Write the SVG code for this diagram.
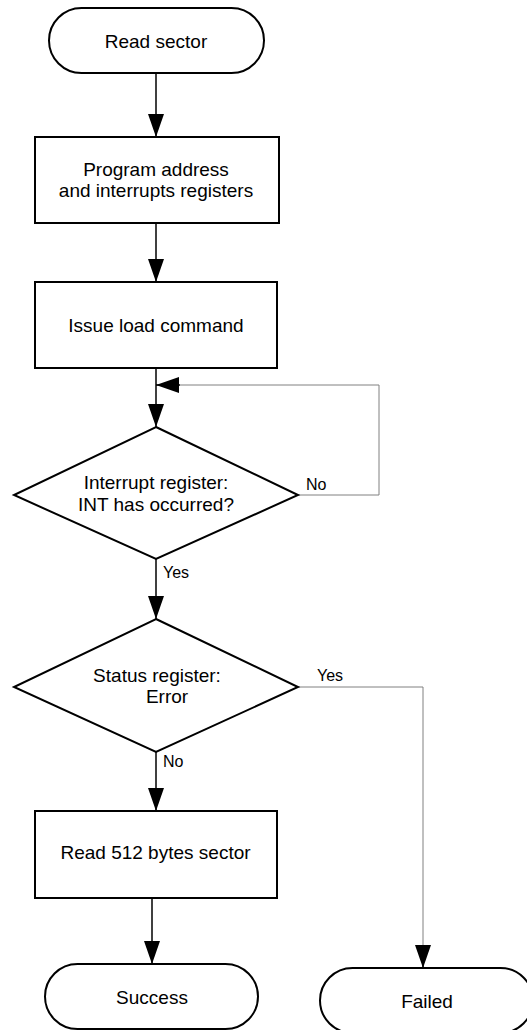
<svg xmlns="http://www.w3.org/2000/svg" width="527" height="1030" viewBox="0 0 527 1030">
<style>
.shape{fill:#fff;stroke:#000;stroke-width:2}
.t{font-family:"Liberation Sans",Arial,sans-serif;font-size:19px;fill:#000;text-anchor:middle}
.lbl{font-family:"Liberation Sans",Arial,sans-serif;font-size:16px;fill:#000}
.c{fill:none;stroke:#000;stroke-width:1.5}
.g{fill:none;stroke:#808080;stroke-width:1}
</style>
<defs>
<marker id="ah" markerUnits="userSpaceOnUse" markerWidth="24" markerHeight="17" refX="23" refY="8" orient="auto">
<path d="M0,0 L23,8 L0,16 Z" fill="#000"/>
</marker>
</defs>
<rect width="527" height="1030" fill="#fff"/>
<g id="connectors">
<line class="c" x1="156" y1="73" x2="156" y2="137" marker-end="url(#ah)"/>
<line class="c" x1="156" y1="223" x2="156" y2="282" marker-end="url(#ah)"/>
<line class="c" x1="156" y1="368" x2="156" y2="427" marker-end="url(#ah)"/>
<polyline class="g" points="298,495 379,495 379,385 180,385"/>
<line class="c" x1="180" y1="385" x2="156" y2="385" stroke-width="0" marker-end="url(#ah)"/>
<line class="c" x1="156" y1="559" x2="156" y2="619" marker-end="url(#ah)"/>
<polyline class="g" points="298,687 423,687 423,945"/>
<line class="c" x1="423" y1="945" x2="423" y2="968" stroke-width="0" marker-end="url(#ah)"/>
<line class="c" x1="156" y1="752" x2="156" y2="811" marker-end="url(#ah)"/>
<line class="c" x1="152" y1="898" x2="152" y2="964" marker-end="url(#ah)"/>
<text class="lbl" x="306" y="490">No</text>
<text class="lbl" x="163" y="578">Yes</text>
<text class="lbl" x="317" y="681">Yes</text>
<text class="lbl" x="163" y="767">No</text>
</g>
<g id="start">
<rect class="shape" x="49" y="8" width="215" height="65" rx="32.5"/>
<text class="t" x="156" y="48">Read sector</text>
</g>
<g id="program">
<rect class="shape" x="35" y="137" width="244" height="86"/>
<text class="t" x="156" y="175.5">Program address</text>
<text class="t" x="156" y="196.5">and interrupts registers</text>
</g>
<g id="issue">
<rect class="shape" x="35" y="282" width="242" height="86"/>
<text class="t" x="156" y="331.5">Issue load command</text>
</g>
<g id="int">
<polygon class="shape" points="156,427 298,495 156,559 14,495"/>
<text class="t" x="156" y="489">Interrupt register:</text>
<text class="t" x="156" y="511">INT has occurred?</text>
</g>
<g id="status">
<polygon class="shape" points="156,619 298,687 156,752 14,687"/>
<text class="t" x="157" y="681.5">Status register:</text>
<text class="t" x="167" y="703">Error</text>
</g>
<g id="read">
<rect class="shape" x="35" y="811" width="242" height="87"/>
<text class="t" x="155.5" y="859">Read 512 bytes sector</text>
</g>
<g id="success">
<rect class="shape" x="45" y="964" width="213" height="65" rx="32.5"/>
<text class="t" x="152" y="1004">Success</text>
</g>
<g id="failed">
<rect class="shape" x="320" y="968" width="213" height="65" rx="32.5"/>
<text class="t" x="427" y="1007.5">Failed</text>
</g>
</svg>
